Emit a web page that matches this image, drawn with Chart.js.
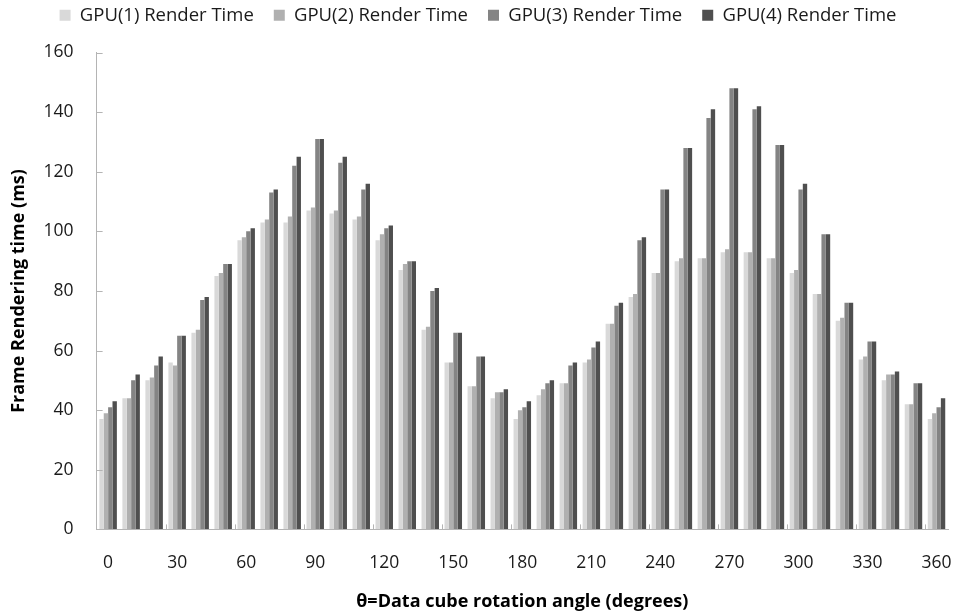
<!DOCTYPE html>
<html>
<head>
    <title>Frame rendering time</title>
    <script src="https://cdn.jsdelivr.net/npm/chart.js@4/dist/chart.umd.min.js"></script>
    <style>
        body { margin: 0; background: #fff; }
    </style>
</head>
<body>
    <canvas id="myChart" width="956" height="616"></canvas>
    <script>
      // rotation angles, every 10 degrees
      var angles = [0, 10, 20, 30, 40, 50, 60, 70, 80, 90, 100, 110, 120, 130, 140, 150, 160, 170, 180,
                    190, 200, 210, 220, 230, 240, 250, 260, 270, 280, 290, 300, 310, 320, 330, 340, 350, 360];
      var gpu1 = [37, 44, 50, 56, 66, 85, 97, 103, 103, 107, 106, 104, 97, 87, 67, 56, 48, 44, 37,
                  45, 49, 56, 69, 78, 86, 90, 91, 93, 93, 91, 86, 79, 70, 57, 50, 42, 37];
      var gpu2 = [39, 44, 51, 55, 67, 86, 98, 104, 105, 108, 107, 105, 99, 89, 68, 56, 48, 46, 40,
                  47, 49, 57, 69, 79, 86, 91, 91, 94, 93, 91, 87, 79, 71, 58, 52, 42, 39];
      var gpu3 = [41, 50, 55, 65, 77, 89, 100, 113, 122, 131, 123, 114, 101, 90, 80, 66, 58, 46, 41,
                  49, 55, 61, 75, 97, 114, 128, 138, 148, 141, 129, 114, 99, 76, 63, 52, 49, 41];
      var gpu4 = [43, 52, 58, 65, 78, 89, 101, 114, 125, 131, 125, 116, 102, 90, 81, 66, 58, 47, 43,
                  50, 56, 63, 76, 98, 114, 128, 141, 148, 142, 129, 116, 99, 76, 63, 53, 49, 44];
      var seriesNames = ['GPU(1) Render Time', 'GPU(2) Render Time', 'GPU(3) Render Time', 'GPU(4) Render Time'];
      var seriesColors = ['#d9d9d9', '#b0b0b0', '#848484', '#4f4f4f'];

      Chart.defaults.font.family = "'Open Sans', 'Liberation Sans', sans-serif";
      Chart.defaults.color = '#1a1a1a';

      var axisColor = '#b4b4b4';
      var hidden = 'rgba(0,0,0,0)';

      // small tick marks pointing into the plot, like the original
      var innerTicks = {
          id: 'innerTicks',
          afterDraw: function (chart) {
              var c = chart.ctx, xs = chart.scales.x, ys = chart.scales.y;
              c.save();
              c.strokeStyle = axisColor;
              c.lineWidth = 1;
              c.beginPath();
              ys.ticks.forEach(function (t) {
                  var py = Math.round(ys.getPixelForValue(t.value)) + 0.5;
                  c.moveTo(xs.left, py);
                  c.lineTo(xs.left + 6, py);
              });
              for (var i = 3; i < angles.length; i += 3) {
                  var px = Math.round((xs.getPixelForValue(i - 1) + xs.getPixelForValue(i)) / 2) + 0.5;
                  c.moveTo(px, ys.bottom);
                  c.lineTo(px, ys.bottom - 5);
              }
              c.stroke();
              c.restore();
          }
      };

      var allData = [gpu1, gpu2, gpu3, gpu4];
      var datasets = allData.map(function (vals, i) {
          return {
              label: seriesNames[i],
              data: vals,
              backgroundColor: seriesColors[i],
              borderWidth: 0,
              barPercentage: 1.0,
              categoryPercentage: 0.76
          };
      });

      var ctx = document.getElementById('myChart').getContext('2d');
      var myChart = new Chart(ctx, {
          type: 'bar',
          data: { labels: angles, datasets: datasets },
          plugins: [innerTicks],
          options: {
              responsive: false,
              animation: false,
              layout: { padding: { left: 8, right: 8, top: -14, bottom: 3 } },
              plugins: {
                  legend: {
                      position: 'top',
                      labels: {
                          boxWidth: 11,
                          boxHeight: 11,
                          padding: 20,
                          color: '#1a1a1a',
                          font: { size: 18.5 }
                      }
                  },
                  // empty spacer between legend and plot
                  subtitle: {
                      display: true,
                      text: '',
                      weight: 500,
                      font: { size: 10 },
                      padding: { top: 6, bottom: 0 }
                  },
                  tooltip: { enabled: false }
              },
              scales: {
                  x: {
                      grid: { display: true, drawOnChartArea: false, drawTicks: true, tickLength: 23, color: hidden },
                      border: { color: axisColor, width: 1 },
                      ticks: {
                          autoSkip: false,
                          maxRotation: 0,
                          padding: 0,
                          font: { size: 17.5 },
                          callback: function (value, index) {
                              return index % 3 === 0 ? angles[index] : '';
                          }
                      },
                      title: {
                          display: true,
                          text: 'θ=Data cube rotation angle (degrees)',
                          color: '#000',
                          font: { size: 18, weight: 'bold' },
                          padding: { top: 18, bottom: 0 }
                      }
                  },
                  y: {
                      min: 0,
                      max: 160,
                      grid: { display: true, drawOnChartArea: false, drawTicks: true, tickLength: 23, color: hidden },
                      border: { color: axisColor, width: 1 },
                      ticks: {
                          stepSize: 20,
                          padding: 0,
                          font: { size: 17.5 }
                      },
                      title: {
                          display: true,
                          text: 'Frame Rendering time (ms)',
                          color: '#000',
                          font: { size: 18, weight: 'bold' },
                          padding: { top: 0, bottom: 14 }
                      }
                  }
              }
          }
      });
    </script>
</body>
</html>
